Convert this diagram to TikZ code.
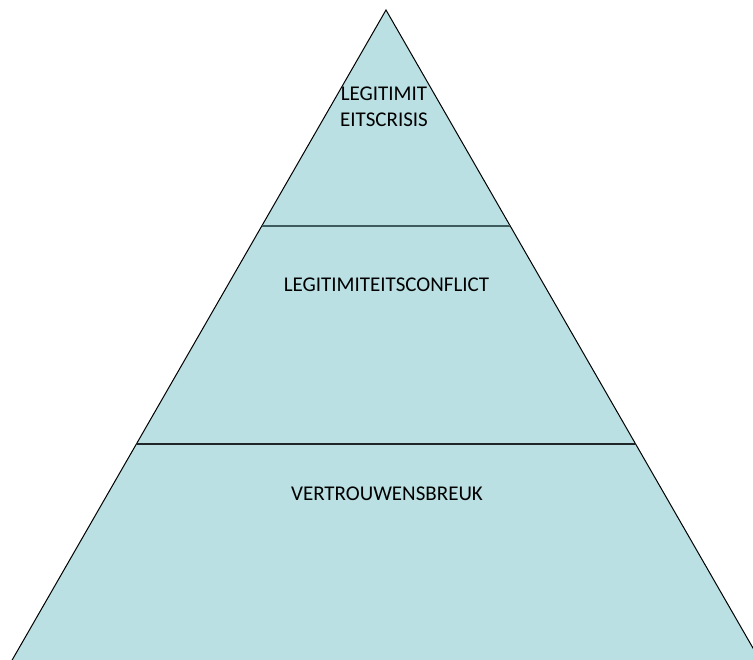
\documentclass[tikz,border=0pt]{standalone}
\usepackage{fontspec}
\setmainfont{Carlito}
\usepackage{xcolor}
\usepackage{tikz}
\definecolor{pyrfill}{RGB}{186,224,227}
\definecolor{topline}{RGB}{62,92,94}
\definecolor{lowline}{RGB}{30,38,40}
\tikzset{
  label/.style={font=\fontsize{21bp}{26bp}\selectfont, text=black, inner sep=0pt, align=center}
}
\begin{document}
\begin{tikzpicture}[x=1bp,y=-1bp]
\useasboundingbox (0,0) rectangle (753,660);
\draw[fill=pyrfill, line width=1bp] (386,10)--(761,662)--(11,662)--cycle;
\draw[topline, line width=2.2bp] (262,226)--(510,226);
\draw[lowline, line width=2.2bp] (136,444)--(636,444);
\node[label] (crisis) at (384,107) {LEGITIMIT\\EITSCRISIS};
\node[label] (conflict) at (386.5,285) {LEGITIMITEITSCONFLICT};
\node[label] (breuk) at (387,494) {VERTROUWENSBREUK};
\end{tikzpicture}
\end{document}
